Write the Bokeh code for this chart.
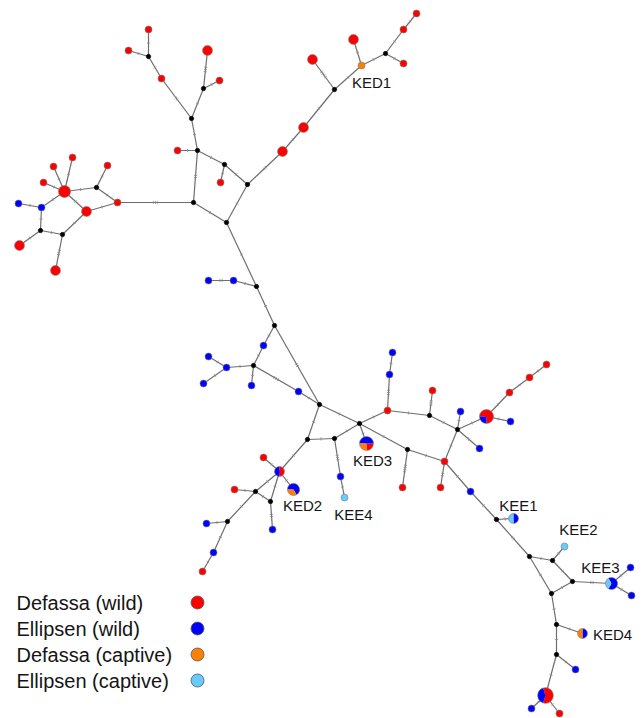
import math
from bokeh.plotting import figure
from bokeh.models import Range1d
from bokeh.embed import file_html
from bokeh.resources import INLINE
from bokeh.core.properties import value

# ---------------- data ----------------
groups = ["Defassa (wild)", "Ellipsen (wild)", "Defassa (captive)", "Ellipsen (captive)"]
group_colors = ["#ff0000", "#0000ff", "#ff8000", "#66ccff"]

# node layout (network coordinates, y grows downward)
node_x = [148, 128, 148, 161, 207, 219, 203, 191, 177, 197,
          224, 220, 247, 193, 226, 282, 303, 334, 312, 361,
          353, 385, 403, 403, 416, 117, 96, 64, 72, 53,
          43, 107, 41, 18, 86, 40, 62, 19, 55, 256,
          233, 208, 274, 263, 253, 226, 208, 203, 251, 298,
          319, 359, 307, 334, 366, 340, 344, 279, 263, 293,
          255, 234, 270, 272, 227, 206, 213, 202, 387, 389,
          392, 429, 432, 457, 460, 479, 486, 510, 509, 529,
          546, 444, 407, 402, 440, 470, 496, 513, 529, 552,
          564, 572, 551, 611, 630, 631, 556, 582, 556, 575,
          545, 531, 559]
node_y = [29, 50, 56, 78, 50, 80, 88, 118, 150, 150,
          164, 182, 184, 202, 222, 151, 127, 89, 59, 65,
          39, 53, 63, 29, 13, 202, 187, 191, 157, 166,
          182, 165, 207, 203, 211, 230, 234, 245, 270, 286,
          280, 280, 325, 345, 365, 367, 356, 383, 385, 391,
          404, 423, 439, 438, 443, 476, 497, 471, 457, 489,
          491, 489, 501, 529, 521, 523, 552, 571, 410, 374,
          352, 415, 390, 429, 411, 448, 416, 421, 392, 377,
          364, 461, 449, 487, 487, 491, 519, 518, 556, 560,
          546, 581, 593, 583, 567, 595, 624, 633, 654, 669,
          695, 708, 713]
# R = Defassa wild, B = Ellipsen wild, O = Defassa captive, L = Ellipsen captive,
# M = median vector, P = mixed haplotype (pie)
node_kind = ["R", "R", "M", "R", "R", "R", "M", "M", "R", "M",
             "M", "R", "M", "M", "M", "R", "R", "M", "R", "O",
             "R", "M", "R", "R", "R", "R", "M", "R", "R", "R",
             "R", "R", "B", "B", "R", "M", "M", "R", "R", "M",
             "B", "B", "M", "B", "M", "B", "B", "B", "B", "B",
             "M", "M", "M", "M", "P", "B", "L", "P", "R", "P",
             "M", "R", "M", "B", "M", "B", "B", "R", "R", "B",
             "B", "M", "R", "M", "B", "B", "P", "B", "R", "R",
             "R", "R", "M", "R", "R", "B", "M", "P", "M", "M",
             "L", "M", "M", "P", "B", "B", "M", "P", "M", "B",
             "P", "B", "R"]
node_count = [1, 1, 0, 1, 2, 1, 0, 0, 1, 0,
              0, 1, 0, 0, 0, 2, 2, 0, 2, 1,
              2, 0, 1, 1, 1, 1, 0, 3, 1, 1,
              1, 1, 1, 1, 2, 0, 0, 2, 2, 0,
              1, 1, 0, 1, 0, 1, 1, 1, 1, 1,
              0, 0, 0, 0, 4, 1, 1, 2, 1, 3,
              0, 1, 0, 1, 0, 1, 1, 1, 1, 1,
              1, 0, 1, 0, 1, 1, 4, 1, 1, 1,
              1, 1, 0, 1, 1, 1, 0, 2, 0, 0,
              1, 0, 0, 3, 1, 1, 0, 2, 0, 1,
              5, 1, 1]

# mixed haplotypes: composition per group
pie_node = [54, 57, 59, 76, 87, 93, 97, 100]
pie_dw = [1, 1, 0, 3, 0, 0, 0, 3]
pie_ew = [2, 1, 2, 1, 1, 2, 1, 2]
pie_dc = [1, 0, 1, 0, 0, 0, 1, 0]
pie_ec = [0, 0, 0, 0, 1, 1, 0, 0]
pie_start_deg = [270, 270, 300, 270, 270, 240, 270, 252]

# edges: from, to, number of mutational steps
edge_from = [0, 1, 2, 3, 4, 5, 6, 7, 8, 9,
             10, 10, 9, 13, 14, 12, 15, 16, 17, 17,
             19, 19, 21, 21, 23, 25, 25, 26, 26, 27,
             27, 27, 27, 27, 34, 34, 32, 32, 35, 35,
             36,
             14, 39, 40, 39, 42, 43, 44, 45, 45,
             44, 44, 49, 42, 50, 50, 52, 53, 51, 53,
             55, 52, 57, 57, 57, 57, 60, 60, 62, 60,
             64, 64, 66, 51, 68, 69, 68, 71, 71, 73,
             73, 73, 76, 76, 78, 79, 73, 51, 82, 82,
             81, 81, 85, 86, 86, 88, 89, 89, 88, 91,
             91, 93, 93, 92, 96, 96, 98, 98, 100, 100]
edge_to = [2, 2, 3, 7, 6, 6, 7, 9, 9, 10,
           11, 12, 13, 14, 12, 15, 16, 17, 18, 19,
           20, 21, 22, 23, 24, 13, 26, 27, 31, 28,
           29, 30, 32, 34, 25, 36, 33, 35, 36, 37,
           38,
           39, 40, 41, 42, 43, 44, 45, 46, 47,
           48, 49, 50, 50, 51, 52, 53, 51, 54, 55,
           56, 57, 58, 59, 60, 62, 61, 62, 63, 64,
           65, 66, 67, 68, 69, 70, 71, 72, 73, 74,
           75, 76, 77, 78, 79, 80, 81, 82, 81, 83,
           84, 85, 86, 87, 88, 89, 90, 91, 92, 92,
           93, 94, 95, 96, 97, 98, 99, 100, 101, 102]
edge_steps = [1, 1, 1, 2, 3, 1, 1, 1, 1, 1,
              1, 1, 2, 1, 1, 2, 1, 1, 4, 1,
              1, 1, 1, 1, 1, 3, 1, 1, 1, 1,
              1, 1, 1, 1, 1, 1, 1, 1, 1, 1,
              3,
              1, 1, 2, 1, 1, 1, 1, 1, 1,
              1, 3, 1, 2, 1, 1, 1, 1, 1, 3,
              1, 1, 1, 1, 1, 1, 1, 1, 2, 1,
              1, 1, 1, 1, 3, 1, 1, 3, 1, 1,
              2, 1, 1, 1, 1, 1, 1, 1, 1, 4,
              2, 1, 1, 1, 2, 1, 1, 1, 1, 1,
              2, 1, 1, 1, 1, 1, 1, 1, 1, 1]

label_text = ["KED1", "KED2", "KED3", "KEE4", "KEE1", "KEE2", "KEE3", "KED4"]
label_node = [19, 59, 54, 56, 87, 90, 93, 97]
label_dx = [10, 9, 6, 9, 5, 14, -11, 30]
label_dy = [17, 16, 17, 17, -13, -17, -16, 1]

# ---------------- styles ----------------
FONT = "Liberation Sans"
EDGE_COLOR = "#6e6e6e"
OUTLINE = "#7a7a7a"
BASE_R = 3.5
MEDIAN_R = 2.2


def radius(n):
    return MEDIAN_R if n == 0 else BASE_R * math.sqrt(n)


p = figure(width=642, height=718, x_range=Range1d(0, 642), y_range=Range1d(718, 0),
           x_axis_type=None, y_axis_type=None, toolbar_location=None,
           output_backend="svg", min_border=0, outline_line_color=None,
           background_fill_color="white", border_fill_color="white")
p.grid.visible = False

# edges
ex0 = [node_x[a] for a in edge_from]
ey0 = [node_y[a] for a in edge_from]
ex1 = [node_x[b] for b in edge_to]
ey1 = [node_y[b] for b in edge_to]
p.segment(ex0, ey0, ex1, ey1, line_color=EDGE_COLOR, line_width=1.2)

# mutation hatch marks
tx0, ty0, tx1, ty1 = [], [], [], []
for a, b, k in zip(edge_from, edge_to, edge_steps):
    x0, y0, x1, y1 = node_x[a], node_y[a], node_x[b], node_y[b]
    L = math.hypot(x1 - x0, y1 - y0)
    ux, uy = (x1 - x0) / L, (y1 - y0) / L
    nx, ny = -uy, ux
    mx, my = (x0 + x1) / 2, (y0 + y1) / 2
    for i in range(k):
        off = (i - (k - 1) / 2) * 2.2
        cx, cy = mx + ux * off, my + uy * off
        tx0.append(cx - nx * 1.6)
        ty0.append(cy - ny * 1.6)
        tx1.append(cx + nx * 1.6)
        ty1.append(cy + ny * 1.6)
p.segment(tx0, ty0, tx1, ty1, line_color="#8a8a8a", line_width=0.8)

# single-colour nodes
kind_color = {"R": group_colors[0], "B": group_colors[1], "O": group_colors[2],
              "L": group_colors[3], "M": "#000000"}
cx, cy, cr, cf, cl = [], [], [], [], []
for i, k in enumerate(node_kind):
    if k == "P":
        continue
    cx.append(node_x[i])
    cy.append(node_y[i])
    cr.append(radius(node_count[i]))
    cf.append(kind_color[k])
    cl.append("#000000" if k == "M" else OUTLINE)
p.circle(x=cx, y=cy, radius=cr, radius_units="screen", fill_color=cf,
         line_color=cl, line_width=0.6)

# pies
wx, wy, wr, ws, we, wc = [], [], [], [], [], []
ox, oy, orr = [], [], []
for j, idx in enumerate(pie_node):
    counts = [pie_dw[j], pie_ew[j], pie_dc[j], pie_ec[j]]
    tot = sum(counts)
    r = radius(tot)
    ang = math.radians(pie_start_deg[j])
    for g, c in enumerate(counts):
        if c == 0:
            continue
        span = 2 * math.pi * c / tot
        wx.append(node_x[idx])
        wy.append(node_y[idx])
        wr.append(r)
        ws.append(ang)
        we.append(ang + span)
        wc.append(group_colors[g])
        ang += span
    ox.append(node_x[idx])
    oy.append(node_y[idx])
    orr.append(r)
p.wedge(x=wx, y=wy, radius=wr, radius_units="screen", start_angle=ws, end_angle=we,
        fill_color=wc, line_color=None)
p.circle(x=ox, y=oy, radius=orr, radius_units="screen", fill_color=None,
         line_color=OUTLINE, line_width=0.6)

# labels
lx = [node_x[n] + dx for n, dx in zip(label_node, label_dx)]
ly = [node_y[n] + dy for n, dy in zip(label_node, label_dy)]
p.text(x=lx, y=ly, text=label_text, text_font=value(FONT), text_font_size="15px",
       text_align="center", text_baseline="middle", text_color="#151515")

# legend
leg_y = [602 + 26 * i for i in range(len(groups))]
p.text(x=[16] * len(groups), y=leg_y, text=groups, text_font=value(FONT),
       text_font_size="20px", text_align="left", text_baseline="middle",
       text_color="#151515")
p.circle(x=[197] * len(groups), y=leg_y, radius=6.5, radius_units="screen",
         fill_color=group_colors, line_color="#555555", line_width=0.8)

open("out.html", "w").write(file_html(p, INLINE))
